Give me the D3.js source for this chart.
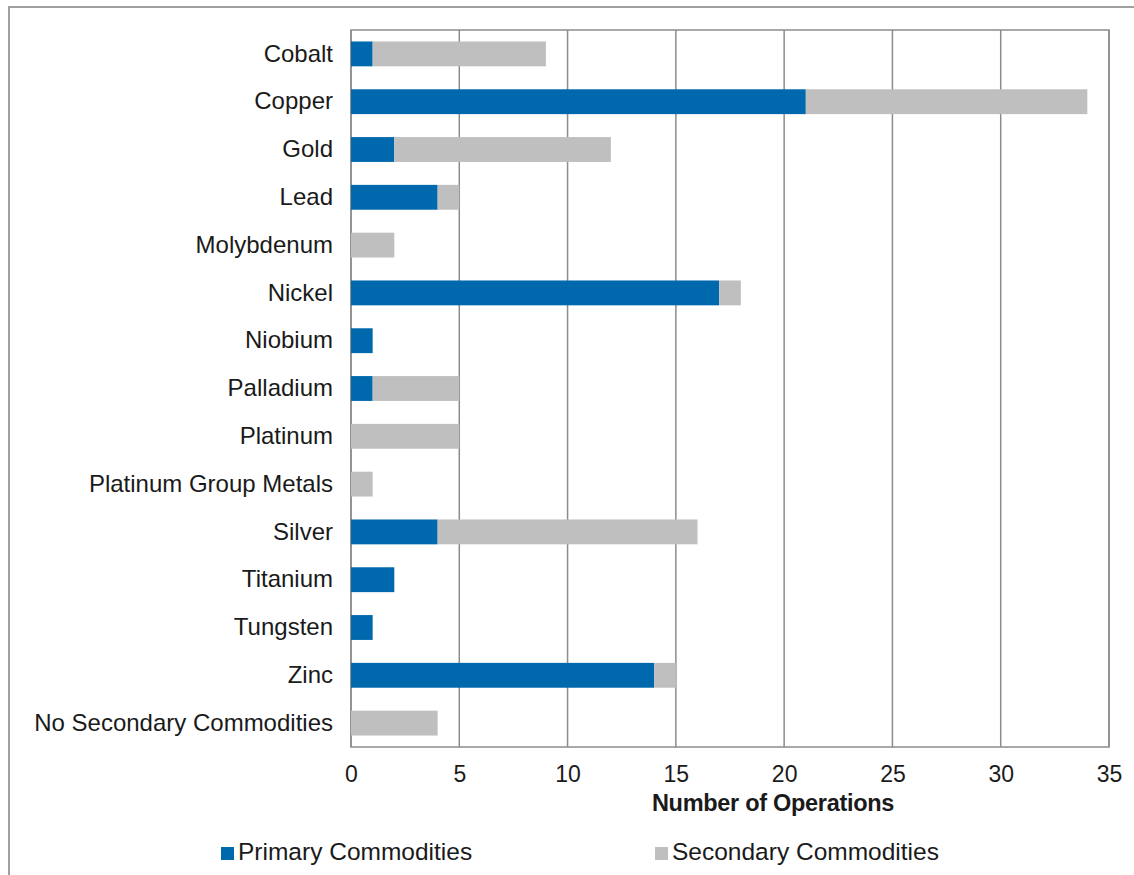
<!DOCTYPE html>
<html>
<head>
<meta charset="utf-8">
<script src="https://cdn.jsdelivr.net/npm/d3@7"></script>
<style>
  body { margin: 0; background: #fff; }
  text { font-family: "Liberation Sans", Arial, sans-serif; fill: #1a1a1a; }
</style>
</head>
<body>
<div id="chart"></div>
<script>
// chart data
var categories = ["Cobalt", "Copper", "Gold", "Lead", "Molybdenum", "Nickel", "Niobium",
  "Palladium", "Platinum", "Platinum Group Metals", "Silver", "Titanium", "Tungsten",
  "Zinc", "No Secondary Commodities"];
var primary   = [1, 21, 2, 4, 0, 17, 1, 1, 0, 0, 4, 2, 1, 14, 0];
var secondary = [8, 13, 10, 1, 2, 1, 0, 4, 5, 1, 12, 0, 0, 1, 4];
var xTicks = [0, 5, 10, 15, 20, 25, 30, 35];
var seriesNames = ["Primary Commodities", "Secondary Commodities"];
var colors = ["#0068ad", "#bfbfbf"];

var svgWidth = 1134, svgHeight = 875;
var margin = { top: 30, left: 351, right: 25, bottom: 128 };
var width = 1109 - margin.left;
var height = 747 - margin.top;
var font = "Liberation Sans, Arial, sans-serif";

var svg = d3.select("#chart").append("svg")
  .attr("width", svgWidth)
  .attr("height", svgHeight);

// outer frame (runs off the right and bottom edges)
svg.append("rect")
  .attr("x", 9).attr("y", 7)
  .attr("width", 1140).attr("height", 880)
  .attr("fill", "none")
  .attr("stroke", "#a0a0a0")
  .attr("stroke-width", 2);

var chartGroup = svg.append("g")
  .attr("transform", `translate(${margin.left}, ${margin.top})`);

var data = categories.map((c, i) => ({ cat: c, p: primary[i], s: secondary[i] }));

var xScale = d3.scaleLinear().domain([0, 35]).range([0, width]);
var yScale = d3.scaleBand().domain(categories).range([0, height]).paddingInner(0.48).paddingOuter(0.24);

// gridlines
chartGroup.append("g")
  .selectAll("line")
  .data(xTicks)
  .enter()
  .append("line")
  .attr("x1", d => xScale(d)).attr("x2", d => xScale(d))
  .attr("y1", 0).attr("y2", height)
  .attr("stroke", "#8c8c8c")
  .attr("stroke-width", 1.5);

// plot border
chartGroup.append("rect")
  .attr("width", width).attr("height", height)
  .attr("fill", "none")
  .attr("stroke", "#8c8c8c")
  .attr("stroke-width", 1.5);

// bars
var rows = chartGroup.append("g").selectAll("g")
  .data(data)
  .enter()
  .append("g");

rows.append("rect")
  .attr("x", d => xScale(0))
  .attr("y", d => yScale(d.cat))
  .attr("width", d => xScale(d.p) - xScale(0))
  .attr("height", yScale.bandwidth())
  .attr("fill", colors[0]);

rows.append("rect")
  .attr("x", d => xScale(d.p))
  .attr("y", d => yScale(d.cat))
  .attr("width", d => xScale(d.p + d.s) - xScale(d.p))
  .attr("height", yScale.bandwidth())
  .attr("fill", colors[1]);

// y axis labels
var yAxis = d3.axisLeft(yScale).tickSize(0).tickPadding(18);
chartGroup.append("g")
  .call(yAxis)
  .call(g => g.select(".domain").remove())
  .selectAll("text")
  .attr("font-size", 24)
  .attr("font-family", font)
  .attr("fill", "#1a1a1a");

// x axis labels
var xAxis = d3.axisBottom(xScale).tickValues(xTicks).tickSize(0).tickPadding(19);
chartGroup.append("g")
  .attr("transform", `translate(0, ${height})`)
  .call(xAxis)
  .call(g => g.select(".domain").remove())
  .selectAll("text")
  .attr("font-size", 23)
  .attr("font-family", font)
  .attr("fill", "#1a1a1a");

// axis title
svg.append("text")
  .attr("x", 773).attr("y", 811)
  .attr("text-anchor", "middle")
  .attr("font-size", 23.5)
  .attr("font-weight", "bold")
  .attr("letter-spacing", -0.3)
  .text("Number of Operations");

// legend
var legendX = [221, 655];
var legend = svg.append("g").selectAll("g")
  .data(seriesNames)
  .enter()
  .append("g")
  .attr("transform", (d, i) => `translate(${legendX[i]}, 860)`);

legend.append("rect")
  .attr("x", 0).attr("y", -13)
  .attr("width", 13).attr("height", 13)
  .attr("fill", (d, i) => colors[i]);

legend.append("text")
  .attr("x", 17).attr("y", 0)
  .attr("font-size", 24.5)
  .text(d => d);
</script>
</body>
</html>
